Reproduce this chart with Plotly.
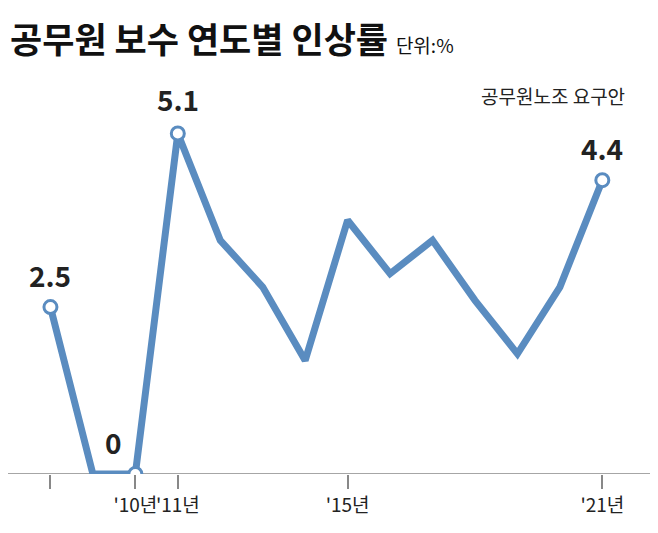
import plotly.graph_objects as go

years = [2008, 2009, 2010, 2011, 2012, 2013, 2014, 2015, 2016, 2017, 2018, 2019, 2020, 2021]
rates = [2.5, 0, 0, 5.1, 3.5, 2.8, 1.7, 3.8, 3.0, 3.5, 2.6, 1.8, 2.8, 4.4]
marked_years = [2008, 2010, 2011, 2021]
marked_labels = ["2.5", "0", "5.1", "4.4"]
tick_years = [2008, 2010, 2011, 2015, 2021]
tick_text = ["", "'10년", "'11년", "'15년", "'21년"]

blue = "#5a8cc0"
font = "Noto Sans CJK KR"

fig = go.Figure()
fig.add_trace(go.Scatter(x=years, y=rates, mode="lines",
                         line=dict(color=blue, width=7)))
marked_vals = [rates[years.index(y)] for y in marked_years]
fig.add_trace(go.Scatter(x=marked_years, y=marked_vals, mode="markers",
                         marker=dict(size=13, color="white", line=dict(color=blue, width=3))))

shifts = [32, 32, 34, 32]
xsh = [0, -22, 0, 0]
for yr, v, t, s, xs in zip(marked_years, marked_vals, marked_labels, shifts, xsh):
    fig.add_annotation(x=yr, y=v, text="<b>" + t + "</b>", showarrow=False,
                       yshift=s, xshift=xs, font=dict(family=font, size=28, color="#222"))

fig.add_annotation(x=2021, y=5.1, text="공무원노조 요구안", showarrow=False, xanchor="right",
                   xshift=25, yshift=38, font=dict(family=font, size=19, color="#222"))
fig.add_annotation(xref="paper", yref="paper", x=0, y=1.0, yshift=50, xanchor="left", yanchor="top",
                   text="<b>공무원 보수 연도별 인상률</b> <span style='font-size:19px'>단위:%</span>",
                   showarrow=False, font=dict(family=font, size=35, color="#111"))

fig.update_layout(
    width=658, height=533, showlegend=False,
    paper_bgcolor="white", plot_bgcolor="white",
    margin=dict(l=0, r=0, t=52, b=67),
    xaxis=dict(range=[2007.0, 2022.5], tickvals=tick_years, ticktext=tick_text, tickangle=0,
               showgrid=False, zeroline=False, showline=False,
               ticks="outside", ticklen=14, tickcolor="#888", tickwidth=1.5,
               tickfont=dict(family=font, size=19, color="#222")),
    yaxis=dict(range=[0, 6.2], visible=False),
    shapes=[dict(type="line", xref="paper", yref="y", x0=0, x1=1, y0=0, y1=0,
                 line=dict(color="#888", width=1.5), layer="below")],
)
fig.write_html("out.html")
